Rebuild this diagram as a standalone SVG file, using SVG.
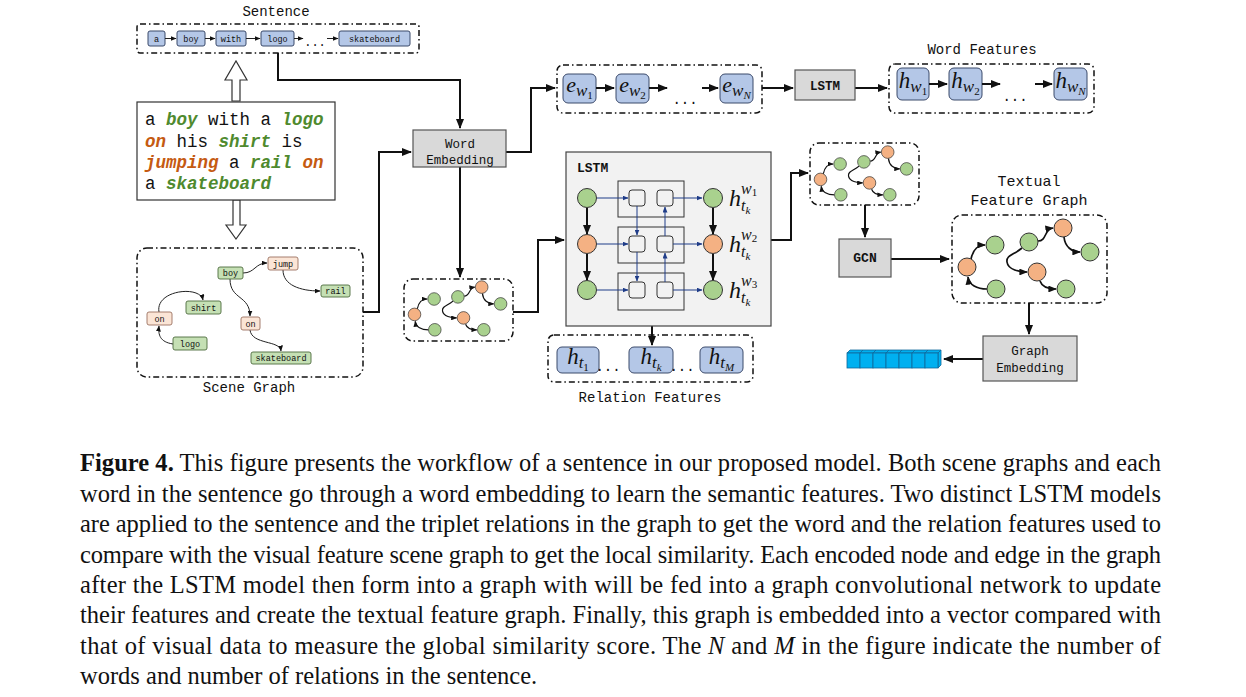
<svg xmlns="http://www.w3.org/2000/svg" xmlns:xlink="http://www.w3.org/1999/xlink" width="1246" height="697" viewBox="0 0 1246 697">
<style>
.mono{font-family:"Liberation Mono","DejaVu Sans Mono",monospace;fill:#111}
.dd{fill:none;stroke:#111;stroke-width:1.5;stroke-dasharray:6 3 1.5 3}
.gbox{fill:#d9d9d9;stroke:#555;stroke-width:1.2}
.blue{fill:#b4c7e7;stroke:#3b4a6b;stroke-width:1}
.sg{fill:#c5e0b4;stroke:#4d6b3d;stroke-width:0.9}
.sp{fill:#fbe5d6;stroke:#9b7060;stroke-width:0.9}
.con{fill:none;stroke:#111;stroke-width:2}
.thin{fill:none;stroke:#222;stroke-width:1}
.nav{fill:none;stroke:#1f3c88;stroke-width:1}
.cg{fill:#a9d18e;stroke:#333;stroke-width:1}
.co{fill:#f4b183;stroke:#333;stroke-width:1}
.math{font-family:"Liberation Serif","DejaVu Serif",serif;font-style:italic;fill:#111}
.cap{font-family:"Liberation Serif","Times New Roman",serif;font-size:24.5px;fill:#111}
.gr{fill:#00b0f0;stroke:#10689a;stroke-width:0.8}
.tg{fill:#4f8a2e;font-weight:bold;font-style:italic}
.to{fill:#c55a11;font-weight:bold;font-style:italic}
</style>
<defs>
<marker id="a" markerUnits="userSpaceOnUse" markerWidth="10" markerHeight="8" refX="9" refY="4" orient="auto"><path d="M0,0 L10,4 L0,8 z" fill="#111"/></marker>
<marker id="s" markerUnits="userSpaceOnUse" markerWidth="6" markerHeight="5" refX="5.5" refY="2.5" orient="auto"><path d="M0,0 L6,2.5 L0,5 z" fill="#111"/></marker>
<marker id="b" markerUnits="userSpaceOnUse" markerWidth="6" markerHeight="5" refX="5.5" refY="2.5" orient="auto"><path d="M0,0 L6,2.5 L0,5 z" fill="#1f3c88"/></marker>
<marker id="g" markerWidth="5" markerHeight="4" refX="4.5" refY="2" orient="auto"><path d="M0,0 L5,2 L0,4 z" fill="#111"/></marker>
<g id="mini">
<g fill="none" stroke="#111" stroke-width="1.7" marker-end="url(#g)">
<path d="M19,44 C21,34 27,30 33,30"/>
<path d="M35,74 C25,74 17,70 16,62"/>
<path d="M86,26 C95,26 92,14 101,13"/>
<path d="M112,22 C113,32 120,37 128,37"/>
<path d="M70,33 C62,40 54,40 55,47 C56,55 68,57 75,57"/>
<path d="M88,66 C90,72 97,74 104,74"/>
</g>
<circle class="co" cx="15" cy="52" r="9"/>
<circle class="cg" cx="43" cy="30" r="9"/>
<circle class="cg" cx="44" cy="74" r="9"/>
<circle class="cg" cx="77" cy="27" r="9"/>
<circle class="co" cx="111" cy="13" r="9"/>
<circle class="cg" cx="138" cy="37" r="9"/>
<circle class="co" cx="85" cy="57" r="9"/>
<circle class="cg" cx="114" cy="74" r="9"/>
</g>
</defs>
<rect width="1246" height="697" fill="#fff"/>

<g id="connectors">
<path class="con" d="M278,53 V80 H460 V128" marker-end="url(#a)"/>
<path class="con" d="M363,312 H379 V152 H411" marker-end="url(#a)"/>
<path class="con" d="M506,152 H531 V88 H555" marker-end="url(#a)"/>
<path class="con" d="M460,167 V277" marker-end="url(#a)"/>
<path class="con" d="M762,88 H793" marker-end="url(#a)"/>
<path class="con" d="M855,88 H887" marker-end="url(#a)"/>
<path class="con" d="M513,312 H538 V240 H564" marker-end="url(#a)"/>
<path class="con" d="M771,240 H791 V173 H808" marker-end="url(#a)"/>
<path class="con" d="M652,310 V345" marker-end="url(#a)"/>
<path class="con" d="M865,205 V237" marker-end="url(#a)"/>
<path class="con" d="M891,259 H949" marker-end="url(#a)"/>
<path class="con" d="M1029,303 V334" marker-end="url(#a)"/>
<path class="con" d="M983,359 H944" marker-end="url(#a)" stroke-width="1.6"/>
<polygon points="232,101 232,80 225,80 236,61 247,80 240,80 240,101" fill="#fff" stroke="#333" stroke-width="1.2"/>
<polygon points="233,200 233,225 226,225 236,239 246,225 240,225 240,200" fill="#fff" stroke="#333" stroke-width="1.2"/>
</g>

<g id="sentence">
<text class="mono" x="276" y="16" font-size="14" text-anchor="middle">Sentence</text>
<rect class="dd" x="137" y="24" width="282" height="29" rx="3"/>
<g font-size="8.5" text-anchor="middle" class="mono">
<rect class="blue" x="148" y="31" width="17" height="15" rx="2"/><text class="mono" x="156.5" y="41.5">a</text>
<rect class="blue" x="177" y="31" width="28" height="15" rx="2"/><text class="mono" x="191" y="41.5">boy</text>
<rect class="blue" x="216" y="31" width="30" height="15" rx="2"/><text class="mono" x="231" y="41.5">with</text>
<rect class="blue" x="261" y="31" width="33" height="15" rx="2"/><text class="mono" x="277.5" y="41.5">logo</text>
<text class="mono" x="315" y="46" font-size="12">...</text>
<rect class="blue" x="339" y="31" width="71" height="15" rx="2"/><text class="mono" x="374.5" y="41.5">skateboard</text>
</g>
<g class="thin" marker-end="url(#s)">
<path d="M165,38.5 H176"/><path d="M205,38.5 H215"/><path d="M246,38.5 H260"/><path d="M294,38.5 H303"/><path d="M327,38.5 H338"/>
</g>
</g>

<g id="text-box">
<rect x="137" y="102" width="198" height="98" fill="#fff" stroke="#333" stroke-width="1.2"/>
<g class="mono" font-size="17.5" xml:space="preserve">
<text x="145" y="125">a <tspan class="tg">boy</tspan> with a <tspan class="tg">logo</tspan></text>
<text x="145" y="147"><tspan class="to">on</tspan> his <tspan class="tg">shirt</tspan> is</text>
<text x="145" y="168"><tspan class="to">jumping</tspan> a <tspan class="tg">rail</tspan> <tspan class="to">on</tspan></text>
<text x="145" y="189">a <tspan class="tg">skateboard</tspan></text>
</g>
</g>

<g id="scene-graph">
<rect class="dd" x="137" y="248" width="226" height="129" rx="10"/>
<text class="mono" x="249" y="392" font-size="14" text-anchor="middle">Scene Graph</text>
<g class="thin" marker-end="url(#s)">
<path d="M243,273 C255,273 255,263 267,263"/>
<path d="M283,270 C283,285 300,291 320,291"/>
<path d="M230,279 C230,300 250,295 250,316"/>
<path d="M250,330 C252,345 280,340 281,351"/>
<path d="M173,344 C160,342 158,335 159,326"/>
<path d="M159,312 C155,290 200,285 203,300"/>
</g>
<g font-size="8.5" text-anchor="middle">
<rect class="sg" x="218" y="267" width="25" height="12" rx="2"/><text class="mono" x="230.5" y="276">boy</text>
<rect class="sp" x="268" y="257" width="30" height="13" rx="2"/><text class="mono" x="283" y="266.5">jump</text>
<rect class="sg" x="321" y="285" width="29" height="12" rx="2"/><text class="mono" x="335.5" y="294">rail</text>
<rect class="sg" x="186" y="301" width="35" height="13" rx="2"/><text class="mono" x="203.5" y="310.5">shirt</text>
<rect class="sp" x="147" y="312" width="25" height="13" rx="2"/><text class="mono" x="159.5" y="321.5">on</text>
<rect class="sg" x="173" y="337" width="34" height="13" rx="2"/><text class="mono" x="190" y="346.5">logo</text>
<rect class="sp" x="241" y="317" width="19" height="13" rx="2"/><text class="mono" x="250.5" y="326.5">on</text>
<rect class="sg" x="251" y="352" width="60" height="12" rx="2"/><text class="mono" x="281" y="361">skateboard</text>
</g>
</g>

<g id="word-embedding">
<rect class="gbox" x="413" y="130" width="93" height="37"/>
<text class="mono" x="460" y="148" font-size="12.5" text-anchor="middle">Word</text>
<text class="mono" x="460" y="164" font-size="12.5" text-anchor="middle">Embedding</text>
</g>

<g id="word-embeddings">
<rect class="dd" x="557" y="65" width="205" height="48" rx="6"/>
<rect class="blue" x="563" y="74" width="33" height="29" rx="5"/>
<rect class="blue" x="616" y="74" width="33" height="29" rx="5"/>
<rect class="blue" x="720" y="74" width="33" height="29" rx="5"/>
<g class="math" text-anchor="middle">
<text x="579.5" y="92" font-size="22">e<tspan font-size="17" dy="4">w</tspan><tspan font-size="11" dy="3" font-style="normal">1</tspan></text>
<text x="632.5" y="92" font-size="22">e<tspan font-size="17" dy="4">w</tspan><tspan font-size="11" dy="3" font-style="normal">2</tspan></text>
<text x="736.5" y="92" font-size="22">e<tspan font-size="17" dy="4">w</tspan><tspan font-size="11" dy="3">N</tspan></text>
</g>
<path class="con" d="M596,88 H614" marker-end="url(#a)"/>
<path class="con" d="M649,88 H667" marker-end="url(#a)"/>
<text class="mono" x="685" y="104" font-size="14" text-anchor="middle">...</text>
<path class="con" d="M702,88 H718" marker-end="url(#a)"/>
</g>

<g id="lstm-word">
<rect class="gbox" x="795" y="70" width="60" height="30"/>
<text class="mono" x="825" y="89.5" font-size="12.5" font-weight="bold" text-anchor="middle">LSTM</text>
</g>

<g id="word-features">
<text class="mono" x="982" y="54" font-size="14" text-anchor="middle">Word Features</text>
<rect class="dd" x="889" y="64" width="205" height="49" rx="6"/>
<rect class="blue" x="897" y="68" width="32" height="32" rx="5"/>
<rect class="blue" x="949" y="68" width="33" height="32" rx="5"/>
<rect class="blue" x="1054" y="68" width="33" height="32" rx="5"/>
<g class="math" text-anchor="middle">
<text x="913" y="88" font-size="23">h<tspan font-size="17" dy="4">w</tspan><tspan font-size="11" dy="3" font-style="normal">1</tspan></text>
<text x="965.5" y="88" font-size="23">h<tspan font-size="17" dy="4">w</tspan><tspan font-size="11" dy="3" font-style="normal">2</tspan></text>
<text x="1070.5" y="88" font-size="23">h<tspan font-size="17" dy="4">w</tspan><tspan font-size="11" dy="3">N</tspan></text>
</g>
<path class="con" d="M929,84 H947" marker-end="url(#a)"/>
<path class="con" d="M982,84 H1000" marker-end="url(#a)"/>
<text class="mono" x="1015" y="101" font-size="14" text-anchor="middle">...</text>
<path class="con" d="M1035,84 H1052" marker-end="url(#a)"/>
</g>

<g id="lstm-relation">
<rect x="566" y="152" width="205" height="174" fill="#f2f2f2" stroke="#444" stroke-width="1.2"/>
<text class="mono" x="577" y="172" font-size="13" font-weight="bold">LSTM</text>
<rect x="618" y="181" width="66" height="36" fill="none" stroke="#333"/>
<rect x="618" y="227" width="66" height="36" fill="none" stroke="#333"/>
<rect x="618" y="273" width="66" height="37" fill="none" stroke="#333"/>
<g fill="#f2f2f2" stroke="#333">
<rect x="629" y="190" width="16" height="16" rx="3"/><rect x="657" y="190" width="16" height="16" rx="3"/>
<rect x="629" y="236" width="16" height="16" rx="3"/><rect x="657" y="236" width="16" height="16" rx="3"/>
<rect x="629" y="282" width="16" height="16" rx="3"/><rect x="657" y="282" width="16" height="16" rx="3"/>
</g>
<g class="nav" marker-end="url(#b)">
<path d="M597,198 H628"/><path d="M673,198 H702"/>
<path d="M597,244 H628"/><path d="M673,244 H702"/>
<path d="M597,290 H628"/><path d="M673,290 H702"/>
<path d="M637,206 V235"/><path d="M637,252 V281"/>
<path d="M665,282 V253"/><path d="M665,236 V207"/>
</g>
<g class="con" marker-end="url(#a)">
<path d="M587,208 V234"/><path d="M587,254 V280"/>
<path d="M713,208 V234"/><path d="M713,254 V280"/>
</g>
<circle class="cg" cx="587" cy="198" r="9.5"/><circle class="co" cx="587" cy="244" r="9.5"/><circle class="cg" cx="587" cy="290" r="9.5"/>
<circle class="cg" cx="713" cy="198" r="9.5"/><circle class="co" cx="713" cy="244" r="9.5"/><circle class="cg" cx="713" cy="290" r="9.5"/>
<g class="math">
<text x="729" y="206" font-size="24">h</text><text x="741" y="194" font-size="16">w<tspan font-size="11" dy="2" font-style="normal">1</tspan></text><text x="741" y="211" font-size="16">t<tspan font-size="11" dy="3">k</tspan></text>
<text x="729" y="252" font-size="24">h</text><text x="741" y="240" font-size="16">w<tspan font-size="11" dy="2" font-style="normal">2</tspan></text><text x="741" y="257" font-size="16">t<tspan font-size="11" dy="3">k</tspan></text>
<text x="729" y="298" font-size="24">h</text><text x="741" y="286" font-size="16">w<tspan font-size="11" dy="2" font-style="normal">3</tspan></text><text x="741" y="303" font-size="16">t<tspan font-size="11" dy="3">k</tspan></text>
</g>
</g>

<g id="relation-features">
<rect class="dd" x="548" y="335" width="205" height="47" rx="6"/>
<rect class="blue" x="557" y="347" width="42" height="26" rx="5"/>
<rect class="blue" x="629" y="347" width="44" height="26" rx="5"/>
<rect class="blue" x="700" y="347" width="43" height="26" rx="5"/>
<g class="math" text-anchor="middle">
<text x="578" y="364" font-size="23">h<tspan font-size="17" dy="4">t</tspan><tspan font-size="11" dy="3" font-style="normal">1</tspan></text>
<text x="651" y="364" font-size="23">h<tspan font-size="17" dy="4">t</tspan><tspan font-size="11" dy="3">k</tspan></text>
<text x="721.5" y="364" font-size="23">h<tspan font-size="17" dy="4">t</tspan><tspan font-size="11" dy="3">M</tspan></text>
</g>
<text class="mono" x="608" y="371" font-size="14" text-anchor="middle">...</text>
<text class="mono" x="682" y="371" font-size="14" text-anchor="middle">...</text>
<text class="mono" x="650" y="402" font-size="14" text-anchor="middle">Relation Features</text>
</g>

<g id="graph-input">
<rect class="dd" x="404" y="279" width="109" height="62" rx="9"/>
<use xlink:href="#mini" href="#mini" transform="translate(404,278) scale(0.7)"/>
</g>

<g id="graph-lstm">
<rect class="dd" x="810" y="143" width="109" height="62" rx="9"/>
<use xlink:href="#mini" href="#mini" transform="translate(810,143) scale(0.7)"/>
</g>

<g id="gcn">
<rect class="gbox" x="839" y="239" width="52" height="38"/>
<text class="mono" x="865" y="262" font-size="13" font-weight="bold" text-anchor="middle">GCN</text>
</g>

<g id="textual-feature-graph">
<text class="mono" x="1029" y="186" font-size="15" text-anchor="middle">Textual</text>
<text class="mono" x="1029" y="205" font-size="15" text-anchor="middle">Feature Graph</text>
<rect class="dd" x="952" y="215" width="155" height="88" rx="10"/>
<use xlink:href="#mini" href="#mini" transform="translate(952,215)"/>
</g>

<g id="graph-embedding">
<rect class="gbox" x="983" y="336" width="94" height="45"/>
<text class="mono" x="1030" y="355" font-size="12.5" text-anchor="middle">Graph</text>
<text class="mono" x="1030" y="372" font-size="12.5" text-anchor="middle">Embedding</text>
</g>

<g id="vector">
<polygon class="gr" points="938,353 941,350 941,365 938,368"/>
<polygon class="gr" points="847,353 850,350 941,350 938,353"/>
<g class="gr">
<rect x="847" y="353" width="13" height="15"/><rect x="860" y="353" width="13" height="15"/><rect x="873" y="353" width="13" height="15"/><rect x="886" y="353" width="13" height="15"/><rect x="899" y="353" width="13" height="15"/><rect x="912" y="353" width="13" height="15"/><rect x="925" y="353" width="13" height="15"/>
</g>
<g fill="none" stroke="#10689a" stroke-width="0.8"><path d="M860,353 L863,350 M873,353 L876,350 M886,353 L889,350 M899,353 L902,350 M912,353 L915,350 M925,353 L928,350"/></g>
</g>

<g id="caption">
<text class="cap" x="80" y="471" textLength="1081" lengthAdjust="spacing"><tspan font-weight="bold">Figure 4.</tspan>  This figure presents the workflow of a sentence in our proposed model. Both scene graphs and each</text>
<text class="cap" x="80" y="501.5" textLength="1081" lengthAdjust="spacing">word in the sentence go through a word embedding to learn the semantic features. Two distinct LSTM models</text>
<text class="cap" x="80" y="532" textLength="1081" lengthAdjust="spacing">are applied to the sentence and the triplet relations in the graph to get the word and the relation features used to</text>
<text class="cap" x="80" y="562.5" textLength="1081" lengthAdjust="spacing">compare with the visual feature scene graph to get the local similarity. Each encoded node and edge in the graph</text>
<text class="cap" x="80" y="593" textLength="1081" lengthAdjust="spacing">after the LSTM model then form into a graph with will be fed into a graph convolutional network to update</text>
<text class="cap" x="80" y="623" textLength="1081" lengthAdjust="spacing">their features and create the textual feature graph. Finally, this graph is embedded into a vector compared with</text>
<text class="cap" x="80" y="653.5" textLength="1081" lengthAdjust="spacing">that of visual data to measure the global similarity score. The <tspan font-style="italic">N</tspan> and <tspan font-style="italic">M</tspan> in the figure indicate the number of</text>
<text class="cap" x="80" y="684">words and number of relations in the sentence.</text>
</g>
</svg>
